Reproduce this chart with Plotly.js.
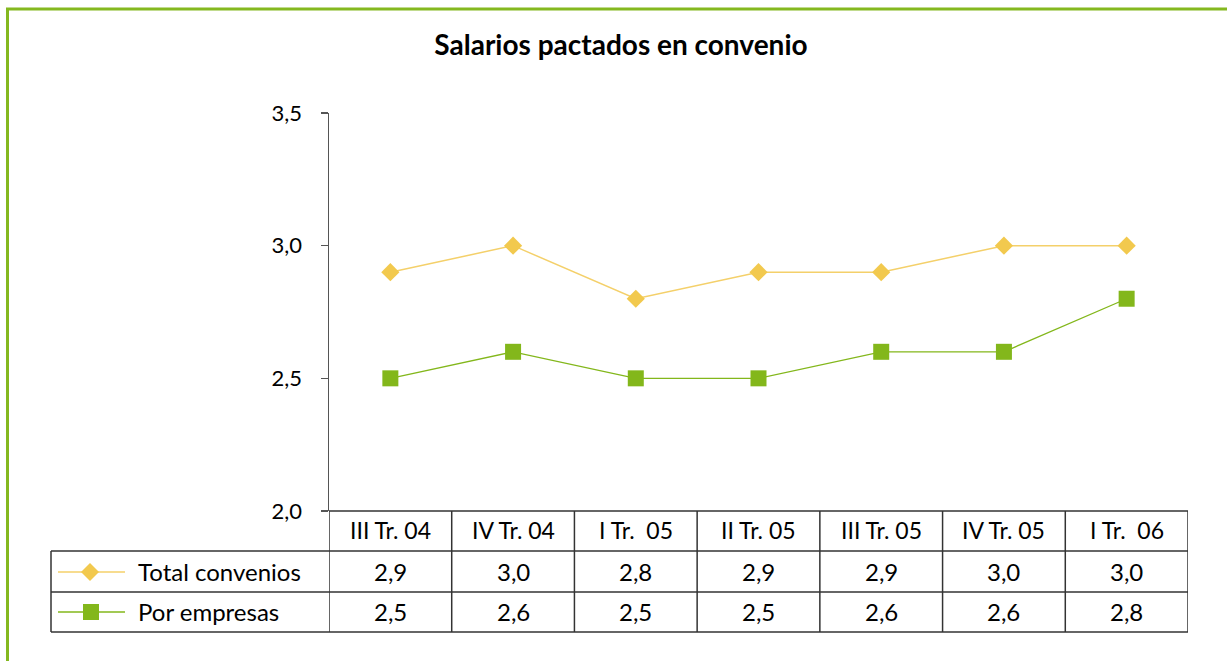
<!DOCTYPE html>
<html>
<head>
<meta charset="utf-8">
<script src="https://cdn.plot.ly/plotly-3.0.1.min.js"></script>
<style>
html,body{margin:0;padding:0;background:#fff;}
#chart{width:1227px;height:661px;}
</style>
</head>
<body>
<div id="chart"></div>
<script>
const categories = ["III Tr. 04", "IV Tr. 04", "I Tr.\u00a0 05", "II Tr. 05", "III Tr. 05", "IV Tr. 05", "I Tr.\u00a0 06"];
const totalConvenios = [2.9, 3.0, 2.8, 2.9, 2.9, 3.0, 3.0];
const porEmpresas = [2.5, 2.6, 2.5, 2.5, 2.6, 2.6, 2.8];
const seriesNames = ["Total convenios", "Por empresas"];
const yTicks = [2.0, 2.5, 3.0, 3.5];

const W = 1227, H = 661;
const px = v => v / W;
const py = v => 1 - v / H;
const FONT = "Lato, 'Open Sans', sans-serif";
const YELLOW = "#f2c94e";
const YELLOW_LINE = "#f4d06a";
const GREEN = "#83b71b";
const GRID = "#333333";
const fmt = v => v.toFixed(1).replace(".", ",");

const xIdx = categories.map((_, i) => i);

const traces = [
  {
    x: xIdx, y: totalConvenios, type: "scatter", mode: "lines+markers", name: seriesNames[0],
    line: {color: YELLOW_LINE, width: 1.5},
    marker: {symbol: "diamond", size: 14, color: YELLOW}
  },
  {
    x: xIdx, y: porEmpresas, type: "scatter", mode: "lines+markers", name: seriesNames[1],
    line: {color: GREEN, width: 1.3},
    marker: {symbol: "square", size: 16, color: GREEN}
  }
];

const shapes = [];
const annotations = [];
// green frame
shapes.push({type: "line", xref: "paper", yref: "paper", x0: px(6), x1: 1, y0: py(9), y1: py(9), line: {color: "#84b81f", width: 3}});
shapes.push({type: "line", xref: "paper", yref: "paper", x0: px(7.5), x1: px(7.5), y0: py(8), y1: 0, line: {color: "#84b81f", width: 3}});

// table horizontal lines
shapes.push({type: "line", xref: "paper", yref: "paper", x0: px(329), x1: px(1188), y0: py(511), y1: py(511), line: {color: GRID, width: 1.5}});
[551, 592, 632].forEach(yy => {
  shapes.push({type: "line", xref: "paper", yref: "paper", x0: px(51), x1: px(1188), y0: py(yy), y1: py(yy), line: {color: GRID, width: 1.5}});
});
// vertical lines
shapes.push({type: "line", xref: "paper", yref: "paper", x0: px(51), x1: px(51), y0: py(551), y1: py(632), line: {color: GRID, width: 1.5}});
for (let k = 0; k <= categories.length; k++) {
  shapes.push({type: "line", xref: "x", yref: "paper", x0: k - 0.5, x1: k - 0.5, y0: py(511), y1: py(632), line: {color: GRID, width: 1.5}});
}

// category labels and values
categories.forEach((c, i) => {
  annotations.push({x: i, xref: "x", y: py(530), yref: "paper", text: c, showarrow: false, xanchor: "center", yanchor: "middle", font: {family: FONT, size: 23, color: "#000"}});
  annotations.push({x: i, xref: "x", y: py(571), yref: "paper", text: fmt(totalConvenios[i]), showarrow: false, xanchor: "center", yanchor: "middle", font: {family: FONT, size: 24, color: "#000"}});
  annotations.push({x: i, xref: "x", y: py(611), yref: "paper", text: fmt(porEmpresas[i]), showarrow: false, xanchor: "center", yanchor: "middle", font: {family: FONT, size: 24, color: "#000"}});
});

// legend cells
const legRows = [572, 612];
const legColors = [YELLOW_LINE, GREEN];
legRows.forEach((yy, r) => {
  shapes.push({type: "line", xref: "paper", yref: "paper", x0: px(58), x1: px(125), y0: py(yy), y1: py(yy), line: {color: legColors[r], width: 1.5}});
  annotations.push({x: px(136), xref: "paper", y: py(yy - 1), yref: "paper", text: seriesNames[r], showarrow: false, xanchor: "left", yanchor: "middle", font: {family: FONT, size: 24, color: "#000"}});
});
// legend markers
shapes.push({type: "path", xref: "paper", yref: "paper", xsizemode: "pixel", ysizemode: "pixel", xanchor: px(90), yanchor: py(572),
  path: "M -9 0 L 0 9 L 9 0 L 0 -9 Z", fillcolor: YELLOW, line: {width: 0}});
shapes.push({type: "path", xref: "paper", yref: "paper", xsizemode: "pixel", ysizemode: "pixel", xanchor: px(91), yanchor: py(612),
  path: "M -8 -8 L 8 -8 L 8 8 L -8 8 Z", fillcolor: GREEN, line: {width: 0}});

const layout = {
  width: W, height: H,
  margin: {l: 0, r: 0, t: 0, b: 0},
  paper_bgcolor: "#fff", plot_bgcolor: "#fff",
  showlegend: false,
  separators: ",.",
  title: {text: "<b>Salarios pactados en convenio</b>", x: px(621), xanchor: "center", y: py(45), yanchor: "middle", xref: "paper", yref: "paper",
    font: {family: FONT, size: 28, color: "#000"}},
  xaxis: {domain: [px(329), px(1188)], range: [-0.5, categories.length - 0.5], showticklabels: false, showgrid: false, zeroline: false, showline: false, ticks: "", fixedrange: true},
  yaxis: {domain: [py(511), py(113)], range: [2.0, 3.5], tickvals: yTicks, tickformat: ".1f", ticks: "outside", ticklen: 7, tickwidth: 1.5, tickcolor: "#555",
    showline: true, linecolor: "#555", linewidth: 1.5, showgrid: false, zeroline: false, ticklabelstandoff: 14,
    tickfont: {family: FONT, size: 22, color: "#000"}},
  shapes: shapes,
  annotations: annotations
};

Plotly.newPlot("chart", traces, layout, {displayModeBar: false, staticPlot: true});
</script>
</body>
</html>
